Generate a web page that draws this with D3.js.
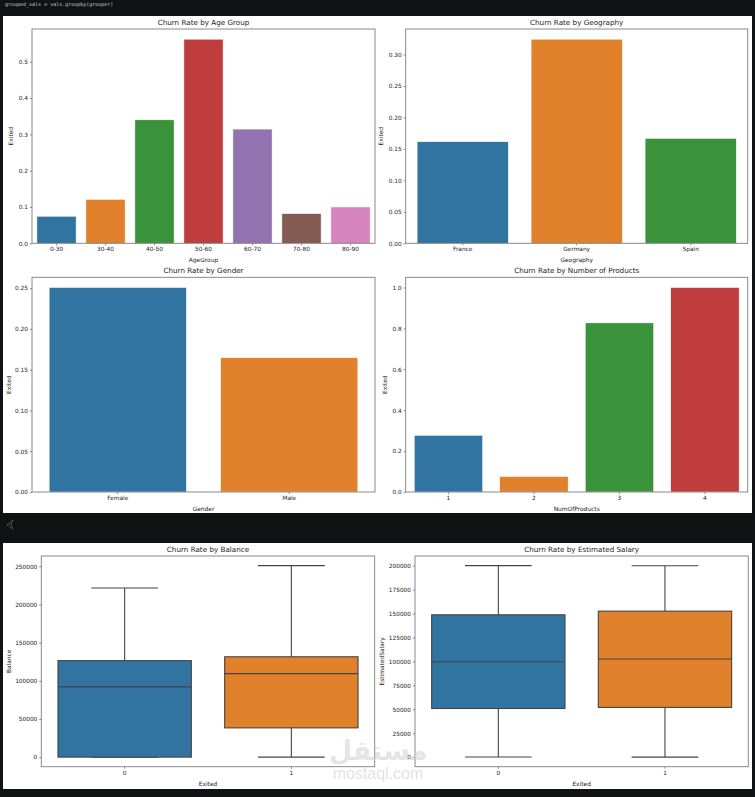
<!DOCTYPE html>
<html>
<head>
<meta charset="utf-8">
<script src="https://cdn.jsdelivr.net/npm/d3@7"></script>
<style>
  html, body { margin: 0; padding: 0; background: #111214; }
  svg { display: block; }
  text { font-family: "DejaVu Sans", sans-serif; }
</style>
</head>
<body>
<svg id="chart" width="755" height="797"></svg>
<script>
// ---------------- DATA ----------------
const ageGroups = ["0-30", "30-40", "40-50", "50-60", "60-70", "70-80", "80-90"];
const ageChurn = [0.0745, 0.121, 0.340, 0.562, 0.3145, 0.0817, 0.100];

const geographies = ["France", "Germany", "Spain"];
const geoChurn = [0.1615, 0.3244, 0.1667];

const genders = ["Female", "Male"];
const genderChurn = [0.2507, 0.1646];

const numProducts = ["1", "2", "3", "4"];
const productChurn = [0.2771, 0.0758, 0.8271, 1.0];

const exitedGroups = ["0", "1"];
// box stats: [lowWhisker, q1, median, q3, highWhisker]
const balanceStats = [
  [0, 0, 92072, 126410, 221532],
  [0, 38340, 109349, 131433, 250898]
];
const salaryStats = [
  [90, 50783, 99645, 148609, 199992],
  [12, 51908, 102460, 152423, 199809]
];

const ageTicks = [0, 0.1, 0.2, 0.3, 0.4, 0.5];
const geoTicks = [0, 0.05, 0.10, 0.15, 0.20, 0.25, 0.30];
const genderTicks = [0, 0.05, 0.10, 0.15, 0.20, 0.25];
const productTicks = [0, 0.2, 0.4, 0.6, 0.8, 1.0];
const balanceTicks = [0, 50000, 100000, 150000, 200000, 250000];
const salaryTicks = [0, 25000, 50000, 75000, 100000, 125000, 150000, 175000, 200000];

const palette = ["#3274a1", "#e1812c", "#3a923a", "#c03d3e", "#9372b2", "#845b53", "#d684bd"];

// ---------------- DRAW ----------------
const svg = d3.select("#chart");

// background panels
svg.append("rect").attr("x", 0).attr("y", 0).attr("width", 755).attr("height", 797).attr("fill", "#111214");
svg.append("rect").attr("x", 3).attr("y", 16).attr("width", 749).attr("height", 497).attr("fill", "#ffffff");
svg.append("rect").attr("x", 3).attr("y", 543).attr("width", 749).attr("height", 246).attr("fill", "#ffffff");

svg.append("text").attr("x", 5).attr("y", 5.5)
  .style("font-family", "'DejaVu Sans Mono', monospace").style("font-size", "5px")
  .attr("fill", "#c9c9c9").text("grouped_vals = vals.groupby(grouper)");

// small icon in the dark band
svg.append("path").attr("d", "M13,520 L7,525 L13,529 M13,520 L11,525 L13,529 M9,524 L12,524")
  .attr("fill", "none").attr("stroke", "#8a8a8a").attr("stroke-width", 0.7).attr("stroke-dasharray", "1,0.6");

const TICK_FS = "5.8px", TITLE_FS = "7.2px", LABEL_FS = "5.9px";

function frame(box, title, xlabel, ylabel, yScale, yTicks, yFmt, xScale, ylabelX) {
  const g = svg.append("g");
  const ya = g.append("g").attr("transform", `translate(${box.x0},0)`)
    .call(d3.axisLeft(yScale).tickValues(yTicks).tickFormat(yFmt).tickSize(2).tickPadding(2));
  ya.select(".domain").remove();
  ya.selectAll("line").attr("stroke", "#333").attr("stroke-width", 0.6);
  ya.selectAll("text").style("font-size", TICK_FS).attr("fill", "#222");
  const xa = g.append("g").attr("transform", `translate(0,${box.y1})`)
    .call(d3.axisBottom(xScale).tickSize(2).tickPadding(2));
  xa.select(".domain").remove();
  xa.selectAll("line").attr("stroke", "#333").attr("stroke-width", 0.6);
  xa.selectAll("text").style("font-size", TICK_FS).attr("fill", "#222");
  g.append("text").attr("x", (box.x0 + box.x1) / 2).attr("y", box.y0 - 4)
    .attr("text-anchor", "middle").style("font-size", TITLE_FS).attr("fill", "#222").text(title);
  g.append("text").attr("x", (box.x0 + box.x1) / 2).attr("y", box.y1 + 19)
    .attr("text-anchor", "middle").style("font-size", LABEL_FS).attr("fill", "#222").text(xlabel);
  const cy = (box.y0 + box.y1) / 2;
  g.append("text").attr("transform", `translate(${ylabelX},${cy}) rotate(-90)`)
    .attr("text-anchor", "middle").style("font-size", LABEL_FS).attr("fill", "#222").text(ylabel);
  return g;
}

function spines(box) {
  svg.append("rect").attr("x", box.x0).attr("y", box.y0)
    .attr("width", box.x1 - box.x0).attr("height", box.y1 - box.y0)
    .attr("fill", "none").attr("stroke", "#7d7d7d").attr("stroke-width", 0.9);
}

function barChart(box, cats, vals, title, xlabel, ticks, fmt, ylabelX) {
  const x = d3.scaleBand().domain(cats).range([box.x0, box.x1]).paddingInner(0.2).paddingOuter(0.1);
  const y = d3.scaleLinear().domain([0, d3.max(vals) * 1.05]).range([box.y1, box.y0]);
  frame(box, title, xlabel, "Exited", y, ticks, fmt, x, ylabelX);
  svg.append("g").selectAll("rect").data(cats).join("rect")
    .attr("x", d => x(d)).attr("width", x.bandwidth())
    .attr("y", (d, i) => y(vals[i])).attr("height", (d, i) => y(0) - y(vals[i]))
    .attr("fill", (d, i) => palette[i])
    .attr("stroke", "#ffffff").attr("stroke-width", 0.5);
  spines(box);
}

function boxChart(box, cats, stats, title, ylabel, ticks, ylabelX) {
  const x = d3.scaleBand().domain(cats).range([box.x0, box.x1]).paddingInner(0.2).paddingOuter(0.1);
  const lo = d3.min(stats, s => s[0]), hi = d3.max(stats, s => s[4]);
  const pad = (hi - lo) * 0.05;
  const y = d3.scaleLinear().domain([lo - pad, hi + pad]).range([box.y1, box.y0]);
  frame(box, title, "Exited", ylabel, y, ticks, d3.format("d"), x, ylabelX);
  const lc = "#444444", lw = 1.1;
  cats.forEach((c, i) => {
    const s = stats[i];
    const bx = x(c), bw = x.bandwidth(), cx = bx + bw / 2;
    const g = svg.append("g");
    g.append("line").attr("x1", cx).attr("x2", cx).attr("y1", y(s[3])).attr("y2", y(s[4]))
      .attr("stroke", lc).attr("stroke-width", lw);
    g.append("line").attr("x1", cx).attr("x2", cx).attr("y1", y(s[1])).attr("y2", y(s[0]))
      .attr("stroke", lc).attr("stroke-width", lw);
    [s[0], s[4]].forEach(v => {
      g.append("line").attr("x1", cx - bw / 4).attr("x2", cx + bw / 4).attr("y1", y(v)).attr("y2", y(v))
        .attr("stroke", lc).attr("stroke-width", lw);
    });
    g.append("rect").attr("x", bx).attr("width", bw).attr("y", y(s[3])).attr("height", y(s[1]) - y(s[3]))
      .attr("fill", palette[i]).attr("stroke", lc).attr("stroke-width", lw);
    g.append("line").attr("x1", bx).attr("x2", bx + bw).attr("y1", y(s[2])).attr("y2", y(s[2]))
      .attr("stroke", lc).attr("stroke-width", lw);
  });
  spines(box);
}

barChart({x0: 32, x1: 375, y0: 29, y1: 243.3}, ageGroups, ageChurn,
  "Churn Rate by Age Group", "AgeGroup", ageTicks, d3.format(".1f"), 13);
barChart({x0: 405.7, x1: 747.7, y0: 29, y1: 243.3}, geographies, geoChurn,
  "Churn Rate by Geography", "Geography", geoTicks, d3.format(".2f"), 383);
barChart({x0: 32, x1: 375, y0: 277.3, y1: 492}, genders, genderChurn,
  "Churn Rate by Gender", "Gender", genderTicks, d3.format(".2f"), 10.5);
barChart({x0: 405.7, x1: 747.7, y0: 277.3, y1: 492}, numProducts, productChurn,
  "Churn Rate by Number of Products", "NumOfProducts", productTicks, d3.format(".1f"), 387);

boxChart({x0: 41.3, x1: 374.7, y0: 556, y1: 766.7}, exitedGroups, balanceStats,
  "Churn Rate by Balance", "Balance", balanceTicks, 10.5);
boxChart({x0: 415, x1: 748.3, y0: 556, y1: 766.7}, exitedGroups, salaryStats,
  "Churn Rate by Estimated Salary", "EstimatedSalary", salaryTicks, 384);

// watermark (semi-transparent overlay, as in the reference)
svg.append("text").attr("x", 378).attr("y", 760).attr("text-anchor", "middle")
  .style("font-family", "'Noto Sans', 'DejaVu Sans', sans-serif").style("font-size", "27px").style("font-weight", "bold")
  .attr("fill", "#cfcfcf").attr("fill-opacity", 0.55).text("مستقل");
svg.append("text").attr("x", 378).attr("y", 779).attr("text-anchor", "middle")
  .style("font-family", "'Liberation Sans', Arial, sans-serif").style("font-size", "16px")
  .attr("fill", "#cfcfcf").attr("fill-opacity", 0.6).text("mostaql.com");
</script>
</body>
</html>
